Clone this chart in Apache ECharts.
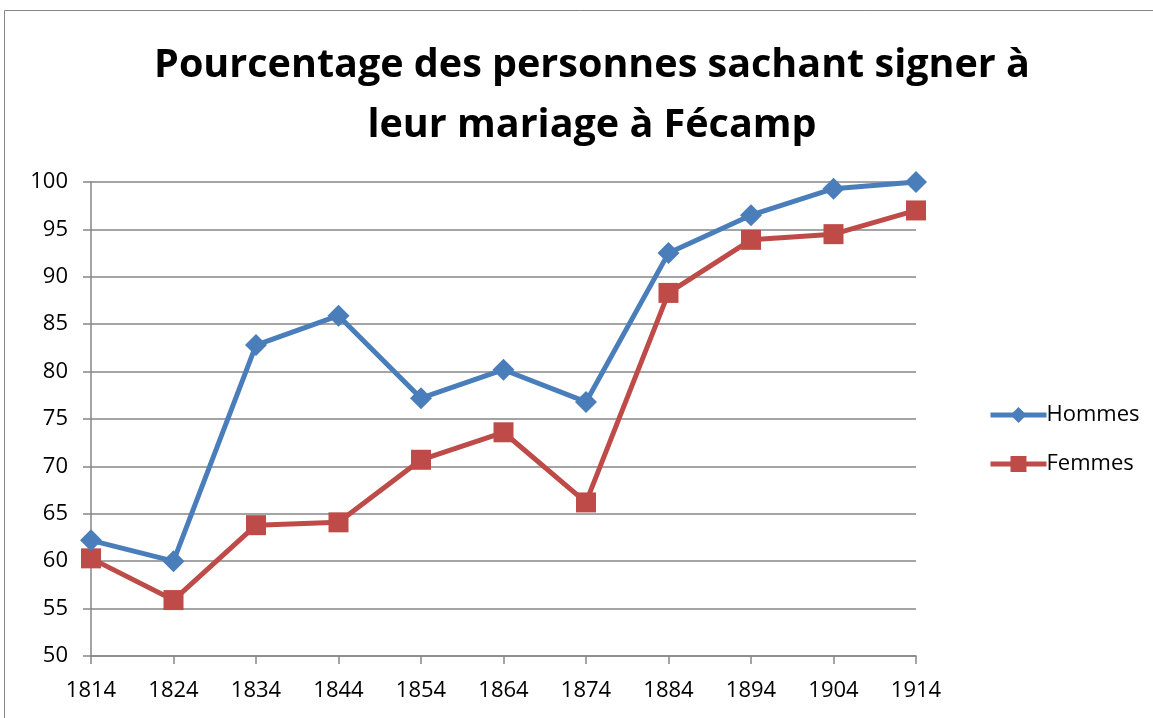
<!DOCTYPE html>
<html>
<head>
<meta charset="utf-8">
<script src="https://cdn.jsdelivr.net/npm/echarts@6/dist/echarts.min.js"></script>
<style>
  html, body { margin: 0; padding: 0; background: #fff; }
  #chart { width: 1153px; height: 718px; }
</style>
</head>
<body>
<div id="chart"></div>
<script>
// Years of the marriage registers
const years = ['1814', '1824', '1834', '1844', '1854', '1864', '1874', '1884', '1894', '1904', '1914'];
// Share of grooms and brides able to sign (%)
const hommes = [62.2, 60.0, 82.8, 85.9, 77.2, 80.2, 76.8, 92.5, 96.5, 99.3, 100.0];
const femmes = [60.3, 55.9, 63.8, 64.1, 70.7, 73.6, 66.2, 88.3, 93.9, 94.5, 97.0];
const titleText = 'Pourcentage des personnes sachant signer à\nleur mariage à Fécamp';

const font = '"Open Sans", "Liberation Sans", sans-serif';
const chart = echarts.init(document.getElementById('chart'));
chart.setOption({
  animation: false,
  backgroundColor: '#fff',
  graphic: [{
    type: 'rect',
    shape: { x: 4.5, y: 10.5, width: 1200, height: 800 },
    style: { fill: 'none', stroke: '#868686', lineWidth: 1 }
  }],
  title: {
    text: titleText,
    left: 587,
    textAlign: 'center',
    top: 31,
    textStyle: { fontFamily: font, fontSize: 39.5, fontWeight: 'bold', color: '#000', lineHeight: 60 }
  },
  legend: {
    orient: 'vertical',
    left: 983,
    top: 399,
    itemGap: 27,
    itemWidth: 56,
    itemHeight: 20,
    lineStyle: { width: 5 },
    textStyle: { fontFamily: font, fontSize: 22, color: '#000', padding: [0, 0, 0, -5] },
    data: ['Hommes', 'Femmes']
  },
  grid: { left: 91, right: 237, top: 182, bottom: 62, containLabel: false },
  xAxis: {
    type: 'category',
    data: years,
    boundaryGap: false,
    axisLine: { lineStyle: { color: '#868686', width: 1.5 } },
    axisTick: { alignWithLabel: true, length: 8, lineStyle: { color: '#868686', width: 1.5 } },
    axisLabel: { fontFamily: font, fontSize: 22, color: '#000', margin: 24 },
    splitLine: { show: false }
  },
  yAxis: {
    type: 'value',
    min: 50,
    max: 100,
    interval: 5,
    axisLine: { show: true, lineStyle: { color: '#868686', width: 1.5 } },
    axisTick: { show: true, length: 8, lineStyle: { color: '#868686', width: 1.5 } },
    axisLabel: { fontFamily: font, fontSize: 22, color: '#000', margin: 23 },
    splitLine: { lineStyle: { color: '#868686', width: 1.5 } }
  },
  series: [
    {
      name: 'Hommes',
      type: 'line',
      data: hommes,
      symbol: 'diamond',
      symbolSize: 22,
      lineStyle: { color: '#4A7EBB', width: 5 },
      itemStyle: { color: '#4A7EBB' },
      z: 3
    },
    {
      name: 'Femmes',
      type: 'line',
      data: femmes,
      symbol: 'rect',
      symbolSize: 20,
      lineStyle: { color: '#BE4B48', width: 5 },
      itemStyle: { color: '#BE4B48' },
      z: 2
    }
  ]
});
</script>
</body>
</html>
